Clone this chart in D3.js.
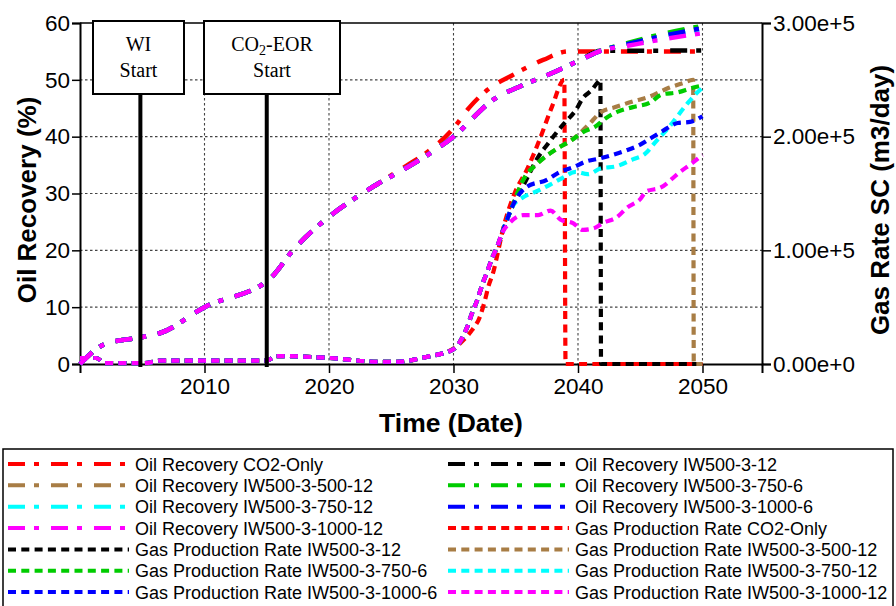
<!DOCTYPE html>
<html>
<head>
<meta charset="utf-8">
<script src="https://cdn.jsdelivr.net/npm/d3@7"></script>
<style>
  body { margin: 0; background: #fff; }
  svg { display: block; }
</style>
</head>
<body>
<script>
// oil recovery (%) readings, [year, value]
var oilEarly = [[2000,0],[2002,3.5],[2005,4.75],[2006.5,5.5],[2010,10],[2015.3,15.1],[2017.1,20],[2020,25.9],[2022.25,29.4],[2024,31.8]];
var oilRedTail = [[2026.3,35],[2027.6,36.8],[2030,41.5],[2031.3,45.2],[2032.7,48.2],[2034.8,50.9],[2037.2,53.5],[2039.2,55.0],[2050,55.0]];
var oilIWMid = [[2024.9,32.9],[2027.5,36.2],[2030,40],[2033.2,46.5],[2035.5,49],[2037.5,50.8],[2040.2,53.5],[2041.8,55.1]];
var oilBlackTail = [[2050,55.15]];
var oilBrownTail = [[2044,56.3],[2047,57.9],[2049.3,58.9],[2050,58.9]];
var oilGreenTail = [[2044,56.5],[2047,58.2],[2050,59.5]];
var oilCyanTail = [[2044,56.2],[2047,57.6],[2050,58.8]];
var oilBlueTail = [[2044,56.3],[2047,57.8],[2050,59.1]];
var oilMagentaTail = [[2044,56.0],[2047,57.2],[2050,58.2]];

// gas rate SC (m3/day) readings, [year, value]
var gasEarly = [[2000,5300],[2001.3,5300],[2002,800],[2005.2,800],[2006.5,3000],[2015,3000],[2015.8,7000],[2020,5300],[2023.9,2000],[2025.5,2000],[2027.9,6400]];
var gasRedTail = [[2030,13500],[2030.8,21000],[2031.5,30000],[2032.1,41000],[2032.5,55000],[2032.8,68000],[2033.2,81000],[2033.6,100000],[2033.9,115000],[2034.9,150000],[2035.9,171000],[2036.9,197000],[2037.9,226000],[2038.9,250000],[2039.0,0],[2050,0]];
var gasIWRise = [[2030,13000],[2030.6,21000],[2031.1,32500],[2031.5,45000],[2031.9,56000],[2032.3,69500],[2032.7,81000],[2033.1,93000],[2033.5,103000],[2033.9,115000]];
var gasBlackTail = [[2034.3,127000],[2034.7,138000],[2035.7,159000],[2036.8,182000],[2037.6,194000],[2038.3,204000],[2039,213000],[2039.8,223000],[2040.4,234000],[2041.1,241000],[2041.6,248000],[2041.8,250000],[2041.85,0],[2050,0]];
var gasBrownTail = [[2034.3,127000],[2034.7,138000],[2035.6,162000],[2036.8,177000],[2038.4,190000],[2039.5,197000],[2040.8,210000],[2041.9,222000],[2043,226000],[2044.4,231000],[2045.7,235000],[2047.3,243000],[2048.4,247000],[2049.25,250000],[2049.3,0],[2050,0]];
var gasGreenTail = [[2034.3,127000],[2034.7,138000],[2035.6,162000],[2036.8,177000],[2038.4,190000],[2039.5,197000],[2040.4,204000],[2041.4,209000],[2042.2,216000],[2043.2,222000],[2044.4,226000],[2045.8,230000],[2046.7,237000],[2048,239000],[2049.2,243000],[2050,245000]];
var gasCyanTail = [[2034.3,127000],[2034.7,138000],[2035.5,146000],[2036.7,152000],[2037.8,158000],[2038.8,164000],[2039.8,169000],[2040.8,167000],[2041.8,172000],[2043.1,174000],[2044.4,180000],[2045.4,185000],[2046.2,195000],[2047.2,207000],[2048.7,228000],[2049.5,238000],[2050,243000]];
var gasBlueTail = [[2034.3,127000],[2034.7,138000],[2035.9,156000],[2037.5,162000],[2038.55,169000],[2039.6,173000],[2040.6,178000],[2041.8,181000],[2042.8,184000],[2043.9,188000],[2045,193000],[2045.9,199000],[2046.8,205000],[2048,212000],[2049,213000],[2050,218000]];
var gasMagentaTail = [[2034.5,124000],[2035.6,131000],[2036.8,131000],[2037.8,135000],[2038.6,127000],[2039.6,124000],[2040.4,118000],[2041.4,120000],[2042,124000],[2043.1,129000],[2044,138000],[2045,145000],[2045.5,152000],[2046.6,155000],[2048.2,169000],[2049.2,177000],[2050,184000]];

var caseNames = ["CO2-Only", "IW500-3-12", "IW500-3-500-12", "IW500-3-750-6", "IW500-3-750-12", "IW500-3-1000-6", "IW500-3-1000-12"];
var caseColors = ["#ff0000", "#000000", "#a87d45", "#00cc00", "#00ffff", "#0000ff", "#ff00ff"];

var xTicks = [2010, 2020, 2030, 2040, 2050];
var oilTicks = [0, 10, 20, 30, 40, 50, 60];
var gasTicks = [0, 100000, 200000, 300000];
var gasTickLabels = ["0.00e+0", "1.00e+5", "2.00e+5", "3.00e+5"];

// build series
var oilIW = oilEarly.concat(oilIWMid);
var oilSeries = [
  oilEarly.concat(oilRedTail),
  oilIW.concat(oilBlackTail),
  oilIW.concat(oilBrownTail),
  oilIW.concat(oilGreenTail),
  oilIW.concat(oilCyanTail),
  oilIW.concat(oilBlueTail),
  oilIW.concat(oilMagentaTail)
];
var gasIW = gasEarly.concat(gasIWRise);
var gasSeries = [
  gasEarly.concat(gasRedTail),
  gasIW.concat(gasBlackTail),
  gasIW.concat(gasBrownTail),
  gasIW.concat(gasGreenTail),
  gasIW.concat(gasCyanTail),
  gasIW.concat(gasBlueTail),
  gasIW.concat(gasMagentaTail)
];

var W = 896, H = 606;
var pLeft = 80, pRight = 762, pTop = 23, pBottom = 364;
var oilDash = "17,9,5,12", gasDash = "8,5.3";
var sans = "'Liberation Sans', Arial, sans-serif";
var serif = "'Liberation Serif', 'Times New Roman', serif";

var svg = d3.select("body").append("svg")
  .attr("width", W)
  .attr("height", H);

var x = d3.scaleLinear().domain([2000, 2054.78]).range([pLeft, pRight]);
var yOil = d3.scaleLinear().domain([0, 60]).range([pBottom, pTop]);
var yGas = d3.scaleLinear().domain([0, 300000]).range([pBottom, pTop]);

// grid
svg.append("g").selectAll("line")
  .data(oilTicks.filter(d => d > 0 && d < 60))
  .enter().append("line")
  .attr("x1", pLeft).attr("x2", pRight)
  .attr("y1", d => yOil(d)).attr("y2", d => yOil(d))
  .attr("stroke", "#444").attr("stroke-width", 1.1)
  .attr("stroke-dasharray", "2.5,2.5");

svg.append("g").selectAll("line")
  .data(xTicks)
  .enter().append("line")
  .attr("x1", d => x(d)).attr("x2", d => x(d))
  .attr("y1", pTop).attr("y2", pBottom)
  .attr("stroke", "#444").attr("stroke-width", 1.1)
  .attr("stroke-dasharray", "2.5,2.5");

// top frame line
svg.append("line")
  .attr("x1", pLeft).attr("x2", pRight)
  .attr("y1", pTop).attr("y2", pTop)
  .attr("stroke", "#000").attr("stroke-width", 1.5);

// axes
var xAxis = svg.append("g")
  .attr("transform", "translate(0," + pBottom + ")")
  .call(d3.axisBottom(x).tickValues(xTicks).tickFormat(d3.format("d")).tickSizeOuter(0).tickSize(9));

var leftAxis = svg.append("g")
  .attr("transform", "translate(" + pLeft + ",0)")
  .call(d3.axisLeft(yOil).tickValues(oilTicks).tickSizeOuter(0).tickSize(8));

var rightAxis = svg.append("g")
  .attr("transform", "translate(" + pRight + ",0)")
  .call(d3.axisRight(yGas).tickValues(gasTicks).tickFormat((d, i) => gasTickLabels[i]).tickSizeOuter(0).tickSize(9));

[xAxis, leftAxis, rightAxis].forEach(function(a) {
  a.select(".domain").attr("stroke", "#000").attr("stroke-width", 2);
  a.selectAll(".tick line").attr("stroke", "#000").attr("stroke-width", 1.5);
  a.selectAll(".tick text")
    .attr("fill", "#000")
    .style("font-family", sans)
    .style("font-size", "22.5px");
});
xAxis.selectAll(".tick text").attr("y", 14);
leftAxis.selectAll(".tick text").attr("x", -10);
rightAxis.selectAll(".tick text").attr("x", 11);

// axis titles
svg.append("text")
  .attr("transform", "translate(36,200) rotate(-90)")
  .attr("text-anchor", "middle")
  .style("font-family", sans).style("font-size", "26px").style("font-weight", "bold")
  .text("Oil Recovery (%)");

svg.append("text")
  .attr("transform", "translate(889,200) rotate(-90)")
  .attr("text-anchor", "middle")
  .style("font-family", sans).style("font-size", "26px").style("font-weight", "bold")
  .text("Gas Rate SC (m3/day)");

svg.append("text")
  .attr("x", 451).attr("y", 432)
  .attr("text-anchor", "middle")
  .style("font-family", sans).style("font-size", "26.5px").style("font-weight", "bold")
  .text("Time (Date)");

// curves
var oilLine = d3.line()
  .x(d => x(d[0])).y(d => yOil(d[1]))
  .curve(d3.curveMonotoneX);
var gasLine = d3.line()
  .x(d => x(d[0])).y(d => yGas(d[1]))
  .curve(d3.curveMonotoneX);

var plot = svg.append("g");

plot.selectAll(".oil")
  .data(oilSeries)
  .enter().append("path")
  .attr("class", "oil")
  .attr("d", d => oilLine(d))
  .attr("fill", "none")
  .attr("stroke", (d, i) => caseColors[i])
  .attr("stroke-width", 4.5)
  .attr("stroke-dasharray", oilDash);

plot.selectAll(".gas")
  .data(gasSeries)
  .enter().append("path")
  .attr("class", "gas")
  .attr("d", d => gasLine(d))
  .attr("fill", "none")
  .attr("stroke", (d, i) => caseColors[i])
  .attr("stroke-width", 4.2)
  .attr("stroke-dasharray", gasDash);

// start markers
var markers = [
  {year: 2004.85, x0: 93, x1: 184},
  {year: 2015, x0: 204, x1: 340}
];
svg.selectAll(".marker")
  .data(markers)
  .enter().append("line")
  .attr("x1", d => x(d.year)).attr("x2", d => x(d.year))
  .attr("y1", 94).attr("y2", 367)
  .attr("stroke", "#000").attr("stroke-width", 4);

svg.selectAll(".mbox")
  .data(markers)
  .enter().append("rect")
  .attr("x", d => d.x0).attr("y", 21)
  .attr("width", d => d.x1 - d.x0).attr("height", 73)
  .attr("fill", "#fff").attr("stroke", "#000").attr("stroke-width", 2);

svg.append("text")
  .attr("x", 138.5).attr("y", 51)
  .attr("text-anchor", "middle")
  .style("font-family", serif).style("font-size", "20px")
  .text("WI");
svg.append("text")
  .attr("x", 138.5).attr("y", 77)
  .attr("text-anchor", "middle")
  .style("font-family", serif).style("font-size", "20px")
  .text("Start");

var t2 = svg.append("text")
  .attr("x", 272).attr("y", 51)
  .attr("text-anchor", "middle")
  .style("font-family", serif).style("font-size", "20px");
t2.append("tspan").text("CO");
t2.append("tspan").attr("dy", 4).style("font-size", "14px").text("2");
t2.append("tspan").attr("dy", -4).text("-EOR");
svg.append("text")
  .attr("x", 272).attr("y", 77)
  .attr("text-anchor", "middle")
  .style("font-family", serif).style("font-size", "20px")
  .text("Start");

// legend
var legendItems = [];
caseNames.forEach((n, i) => legendItems.push({label: "Oil Recovery " + n, color: caseColors[i], dash: oilDash}));
caseNames.forEach((n, i) => legendItems.push({label: "Gas Production Rate " + n, color: caseColors[i], dash: gasDash}));

svg.append("rect")
  .attr("x", 3).attr("y", 449)
  .attr("width", 890).attr("height", 160)
  .attr("fill", "#fff").attr("stroke", "#000").attr("stroke-width", 1.5);

var legend = svg.append("g").selectAll("g")
  .data(legendItems)
  .enter().append("g")
  .attr("transform", (d, i) => "translate(" + (i % 2 === 0 ? 8 : 448) + "," + (464 + Math.floor(i / 2) * 21.35) + ")");

legend.append("line")
  .attr("x1", 0).attr("x2", 121)
  .attr("y1", 0).attr("y2", 0)
  .attr("stroke", d => d.color)
  .attr("stroke-width", 4)
  .attr("stroke-dasharray", d => d.dash);

legend.append("text")
  .attr("x", 127).attr("y", 6.5)
  .style("font-family", sans).style("font-size", "18px")
  .attr("fill", "#000")
  .text(d => d.label);
</script>
</body>
</html>
